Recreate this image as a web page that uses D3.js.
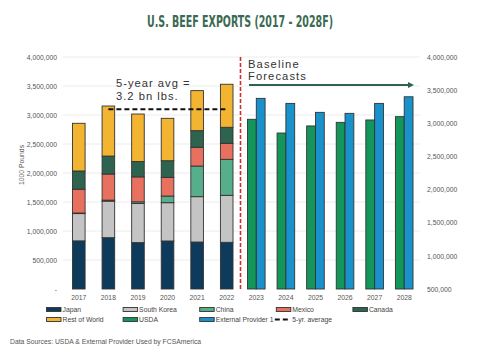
<!DOCTYPE html>
<html lang="en">
    <head>
        <meta charset="utf-8"/>
        <script src="https://d3js.org/d3.v7.min.js"></script>
        <style>
            body { margin: 0; background: #fff; }
            text { font-family: "Liberation Sans", Arial, sans-serif; }
        </style>
    </head>
    <body>
        <div id="chart"></div>
    </body>
    <script>
        // values in 1000 lbs
        var years = ["2017", "2018", "2019", "2020", "2021", "2022", "2023", "2024", "2025", "2026", "2027", "2028"];
        var histYears = ["2017", "2018", "2019", "2020", "2021", "2022"];
        var foreYears = ["2023", "2024", "2025", "2026", "2027", "2028"];

        var japan      = [830000, 885000, 800000, 828000, 810000, 805000];
        var southKorea = [470000, 630000, 675000, 660000, 782000, 810000];
        var china      = [10000, 17000, 28000, 115000, 528000, 621000];
        var mexico     = [410000, 450000, 430000, 322000, 323000, 276000];
        var canada     = [315000, 310000, 264000, 287000, 287000, 276000];
        var restOfWorld= [822000, 863000, 820000, 731000, 690000, 742000];

        var usda     = [3060000, 2853000, 2960000, 3014000, 3050000, 3100000];
        var external = [3376000, 3300000, 3165000, 3150000, 3300000, 3400000];

        var fiveYearAvg = 3100000;
        var leftTicks = [0, 500000, 1000000, 1500000, 2000000, 2500000, 3000000, 3500000, 4000000];
        var rightTicks = [500000, 1000000, 1500000, 2000000, 2500000, 3000000, 3500000, 4000000];

        var stackKeys = ["Japan", "South Korea", "China", "Mexico", "Canada", "Rest of World"];
        var stackCols = ["#0e3a5c", "#c4c4c4", "#56ae8b", "#e8705e", "#2e6350", "#f3b431"];
        var stackVals = [japan, southKorea, china, mexico, canada, restOfWorld];

        var W = 480, H = 349;
        var svg = d3.select("#chart").append("svg")
            .attr("width", W).attr("height", H);

        var x = d3.scaleBand().domain(years).range([64, 419]);
        var yL = d3.scaleLinear().domain([0, 4000000]).range([289, 57]);
        var yR = d3.scaleLinear().domain([500000, 4000000]).range([289, 57]);
        var fmt = d3.format(",");

        // title
        svg.append("text")
            .attr("x", 240).attr("y", 27)
            .attr("text-anchor", "middle")
            .attr("textLength", 186).attr("lengthAdjust", "spacingAndGlyphs")
            .style("font-family", "'DejaVu Sans Condensed', 'DejaVu Sans'")
            .style("font-stretch", "condensed")
            .style("font-weight", "bold")
            .style("font-size", "15.5px")
            .style("fill", "#3b6a53")
            .text("U.S. BEEF EXPORTS (2017 - 2028F)");

        // grid
        svg.append("g").selectAll("line")
            .data(leftTicks.slice(1))
            .enter().append("line")
            .attr("x1", 63).attr("x2", 420)
            .attr("y1", function (d) { return yL(d); })
            .attr("y2", function (d) { return yL(d); })
            .attr("stroke", "#ececec").attr("stroke-width", 1);

        // left axis
        var gl = svg.append("g")
            .attr("transform", "translate(60,0)")
            .call(d3.axisLeft(yL).tickValues(leftTicks).tickSize(0).tickPadding(3)
                .tickFormat(function (d) { return d === 0 ? "-" : fmt(d); }));
        gl.select(".domain").remove();
        gl.selectAll("text").style("font-size", "6.8px").style("fill", "#555");

        // right axis
        var gr = svg.append("g")
            .attr("transform", "translate(424,0)")
            .call(d3.axisRight(yR).tickValues(rightTicks).tickSize(0).tickPadding(3)
                .tickFormat(fmt));
        gr.select(".domain").remove();
        gr.selectAll("text").style("font-size", "6.8px").style("fill", "#555");

        // x axis
        var gx = svg.append("g")
            .attr("transform", "translate(0,292)")
            .call(d3.axisBottom(x).tickSize(0).tickPadding(3));
        gx.select(".domain").remove();
        gx.selectAll("text").style("font-size", "6.8px").style("fill", "#555");

        svg.append("text")
            .attr("transform", "translate(24,165) rotate(-90)")
            .attr("text-anchor", "middle")
            .style("font-size", "6.8px").style("fill", "#555")
            .text("1000 Pounds");

        // stacked bars
        var rows = histYears.map(function (yr, i) {
            var r = { year: yr };
            stackKeys.forEach(function (k, j) { r[k] = stackVals[j][i]; });
            return r;
        });
        var series = d3.stack().keys(stackKeys)(rows);
        var bw = 12.6;
        svg.append("g").selectAll("g")
            .data(series)
            .enter().append("g")
            .attr("fill", function (d, i) { return stackCols[i]; })
            .selectAll("rect")
            .data(function (d) { return d; })
            .enter().append("rect")
            .attr("x", function (d) { return x(d.data.year) + x.bandwidth() / 2 - bw / 2; })
            .attr("width", bw)
            .attr("y", function (d) { return yL(d[1]); })
            .attr("height", function (d) { return yL(d[0]) - yL(d[1]); })
            .attr("stroke", "#333").attr("stroke-width", 0.9);

        // forecast bars (right axis)
        var fw = 8.8;
        var fore = [
            { vals: usda, col: "#129659", off: -fw },
            { vals: external, col: "#1992cb", off: 0 }
        ];
        fore.forEach(function (s) {
            svg.append("g").selectAll("rect")
                .data(foreYears)
                .enter().append("rect")
                .attr("x", function (d) { return x(d) + x.bandwidth() / 2 + s.off; })
                .attr("width", fw)
                .attr("y", function (d, i) { return yR(s.vals[i]); })
                .attr("height", function (d, i) { return yR(500000) - yR(s.vals[i]); })
                .attr("fill", s.col)
                .attr("stroke", "#333").attr("stroke-width", 0.9);
        });

        // divider
        var xDiv = x("2023") - 1;
        svg.append("line")
            .attr("x1", xDiv).attr("x2", xDiv)
            .attr("y1", 57).attr("y2", 290)
            .attr("stroke", "#d42a2a").attr("stroke-width", 1.6)
            .attr("stroke-dasharray", "4,2");

        // 5 yr avg line
        svg.append("line")
            .attr("x1", x("2018") + x.bandwidth() / 2)
            .attr("x2", x("2022") + x.bandwidth() / 2 + 1)
            .attr("y1", yL(fiveYearAvg)).attr("y2", yL(fiveYearAvg))
            .attr("stroke", "#111").attr("stroke-width", 2)
            .attr("stroke-dasharray", "5,3");

        // two-line notes
        function note(x0, y0, lines, size, spacing) {
            lines.forEach(function (s, i) {
                svg.append("text")
                    .attr("x", x0).attr("y", y0 + i * 12.8)
                    .style("font-size", size + "px").style("fill", "#333")
                    .style("letter-spacing", spacing + "px")
                    .text(s);
            });
        }
        note(116, 86.8, ["5-year avg =", "3.2 bn lbs."], 11.2, 1);
        note(248, 67.6, ["Baseline", "Forecasts"], 11.2, 1.1);

        // arrow
        svg.append("defs").append("marker")
            .attr("id", "ah")
            .attr("viewBox", "0 0 10 10")
            .attr("refX", 2).attr("refY", 5)
            .attr("markerWidth", 3.5).attr("markerHeight", 3.5)
            .attr("orient", "auto")
            .append("path").attr("d", "M0,0L10,5L0,10z").attr("fill", "#2e6350");
        svg.append("line")
            .attr("x1", 249).attr("x2", 409)
            .attr("y1", 85).attr("y2", 85)
            .attr("stroke", "#2e6350").attr("stroke-width", 1.8)
            .attr("marker-end", "url(#ah)");

        // legend
        var legend = [
            { name: "Japan", col: "#0e3a5c", c: 0, r: 0 },
            { name: "South Korea", col: "#c4c4c4", c: 1, r: 0 },
            { name: "China", col: "#56ae8b", c: 2, r: 0 },
            { name: "Mexico", col: "#e8705e", c: 3, r: 0 },
            { name: "Canada", col: "#2e6350", c: 4, r: 0 },
            { name: "Rest of World", col: "#f3b431", c: 0, r: 1 },
            { name: "USDA", col: "#129659", c: 1, r: 1 },
            { name: "External Provider 1", col: "#1992cb", c: 2, r: 1 },
            { name: "5-yr. average", col: null, c: 3, r: 1 }
        ];
        var lg = svg.append("g").selectAll("g")
            .data(legend)
            .enter().append("g")
            .attr("transform", function (d) {
                return "translate(" + (46 + d.c * 76.6) + "," + (309.5 + d.r * 10) + ")";
            });
        lg.filter(function (d) { return d.col; })
            .append("rect")
            .attr("x", 0.5).attr("y", -2).attr("width", 14.5).attr("height", 4)
            .attr("fill", function (d) { return d.col; })
            .attr("stroke", "#333").attr("stroke-width", 0.9);
        lg.filter(function (d) { return !d.col; })
            .append("line")
            .attr("x1", -1).attr("x2", 15).attr("y1", 0).attr("y2", 0)
            .attr("stroke", "#111").attr("stroke-width", 2)
            .attr("stroke-dasharray", "5,3");
        lg.append("text")
            .attr("x", 16.5).attr("y", 2.4)
            .style("font-size", "6.8px").style("fill", "#444")
            .text(function (d) { return d.name; });

        svg.append("text")
            .attr("x", 10).attr("y", 344)
            .style("font-size", "6.8px").style("fill", "#555")
            .text("Data Sources: USDA & External Provider Used by FCSAmerica");
    </script>
</html>
